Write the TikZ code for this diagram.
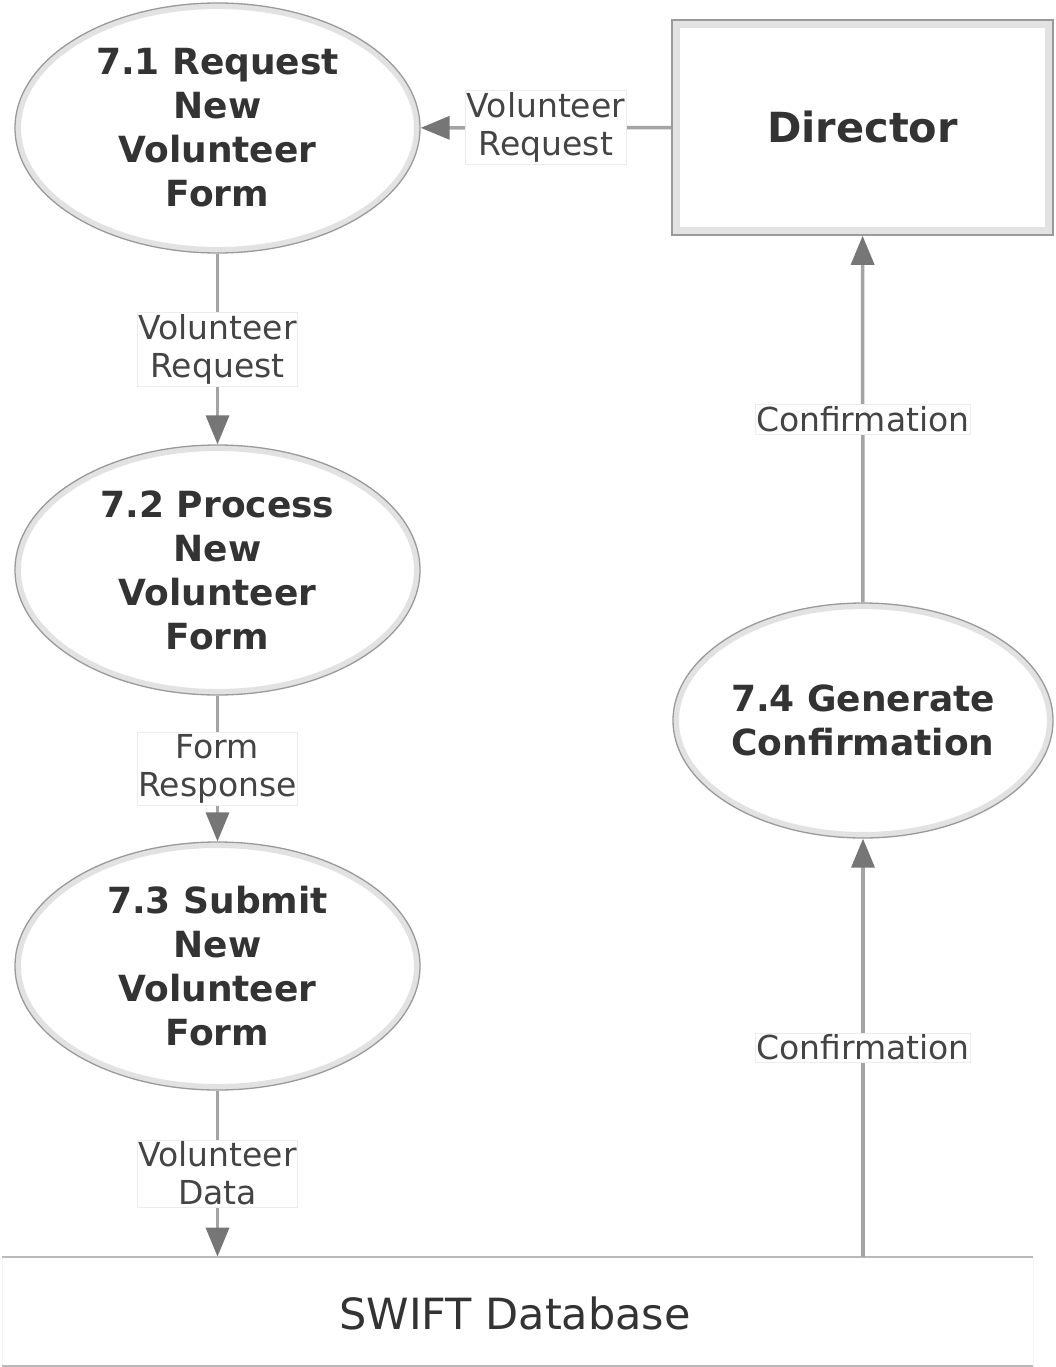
\documentclass[tikz,border=0pt]{standalone}
\usepackage{fontspec}
\setmainfont{DejaVu Sans}
\usetikzlibrary{shapes.geometric,arrows.meta}
\definecolor{txt}{HTML}{333333}
\definecolor{lbltxt}{HTML}{444444}
\definecolor{edge}{HTML}{9A9A9A}
\definecolor{band}{HTML}{E2E2E2}
\definecolor{flowc}{HTML}{A4A4A4}
\definecolor{headc}{HTML}{767676}
\newcommand{\procfont}{\fontsize{36}{44}\selectfont\bfseries}
\newcommand{\lblfont}{\fontsize{33}{38}\selectfont}
\tikzset{
  proc/.style 2 args={ellipse, draw=edge, line width=1.3pt, fill=white,
    minimum width=#1, minimum height=#2, inner sep=0pt, align=center,
    font=\procfont, text=txt,
    path picture={\draw[band, line width=12pt] (path picture bounding box.center)
      ellipse [x radius=#1/2, y radius=#2/2];}},
  entity/.style={rectangle, draw=edge, line width=1.6pt, fill=white,
    minimum width=381pt, minimum height=215pt, inner sep=0pt,
    font=\fontsize{41.5}{48}\selectfont\bfseries, text=txt,
    path picture={\draw[band, line width=16pt] (path picture bounding box.south west)
      rectangle (path picture bounding box.north east);}},
  store/.style={rectangle, draw=gray!8, line width=0.8pt, fill=white,
    minimum width=1031pt, minimum height=109pt, inner sep=0pt},
  storeline/.style={draw=gray!55, line width=2.2pt},
  lbl/.style={rectangle, draw=gray!15, line width=0.6pt, fill=white,
    inner xsep=1pt, inner ysep=2pt, align=center, font=\lblfont, text=lbltxt},
  flow/.style={draw=flowc, line width=3.5pt,
    -{Triangle[length=29pt,width=23pt,fill=headc,color=headc]}},
}
\begin{document}
\begin{tikzpicture}[x=1pt,y=-1pt]
\useasboundingbox (0,0) rectangle (1055,1367);
\fill[white] (0,0) rectangle (1055,1367);

\node[proc={405pt}{250pt}] (p1) at (217.5,128) {7.1 Request\\New\\Volunteer\\Form};
\node[proc={405pt}{250pt}] (p2) at (217.5,570) {7.2 Process\\New\\Volunteer\\Form};
\node[proc={405pt}{248pt}] (p3) at (217.5,966) {7.3 Submit\\New\\Volunteer\\Form};
\node[proc={380pt}{235pt}] (p4) at (863,720.5) {7.4 Generate\\Confirmation};
\node[entity] (dir) at (862.5,127.5) {Director};
\node[store] (db) at (517.5,1311.5) {};
\node[font=\fontsize{43}{50}\selectfont, text=txt] (dbtext) at (515,1313) {SWIFT Database};
\draw[storeline] (db.north west) -- (db.north east);
\draw[storeline] (db.south west) -- (db.south east);

\draw[flow] (dir) -- node[lbl] (l1) {Volunteer\\Request} (p1);
\draw[flow] (p1) -- node[lbl] (l2) {Volunteer\\Request} (p2);
\draw[flow] (p2) -- node[lbl] (l3) {Form\\Response} (p3);
\draw[flow] (p3) -- node[lbl] (l4) {Volunteer\\Data} (p3 |- db.north);
\draw[flow] (db.north -| p4) -- node[lbl] (l5) {Confirmation} (p4);
\draw[flow] (p4) -- node[lbl] (l6) {Confirmation} (dir);
\end{tikzpicture}
\end{document}
